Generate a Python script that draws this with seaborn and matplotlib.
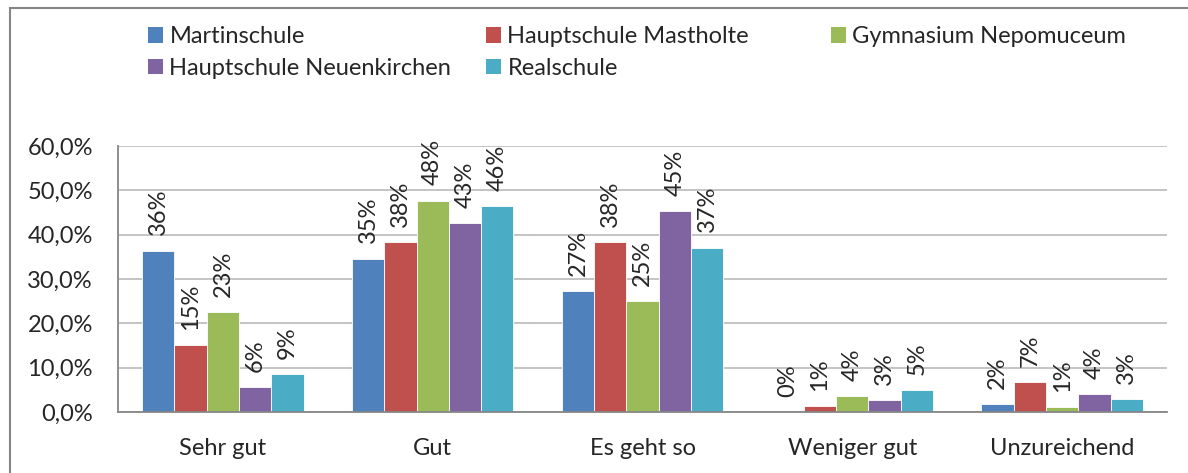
import numpy as np
import pandas as pd
import matplotlib
matplotlib.use("Agg")
import matplotlib.pyplot as plt
import seaborn as sns
from matplotlib.patches import Patch, Rectangle
from matplotlib.ticker import FuncFormatter, FixedLocator

# Bewertungen (x-Achse) und Schulen (Serien)
categories = ["Sehr gut", "Gut", "Es geht so", "Weniger gut", "Unzureichend"]
schools = ["Martinschule", "Hauptschule Mastholte", "Gymnasium Nepomuceum",
           "Hauptschule Neuenkirchen", "Realschule"]

# Anteile in %, je Schule
martinschule = [36.4, 34.6, 27.3, 0.0, 1.7]
mastholte = [15.1, 38.3, 38.3, 1.35, 6.8]
nepomuceum = [22.6, 47.7, 25.0, 3.6, 1.1]
neuenkirchen = [5.6, 42.6, 45.3, 2.7, 4.1]
realschule = [8.6, 46.4, 37.1, 5.0, 2.9]

colors = ["#4F81BD", "#C0504D", "#9BBB59", "#8064A2", "#4BACC6"]

series = [martinschule, mastholte, nepomuceum, neuenkirchen, realschule]
df = pd.DataFrame({
    "Bewertung": categories * len(schools),
    "Schule": np.repeat(schools, len(categories)),
    "Anteil": np.concatenate(series) / 100,
})

sns.set_style("white")
plt.rcParams["font.family"] = ["Lato", "DejaVu Sans"]
fsize = 17

fig = plt.figure(figsize=(11.88, 4.73), dpi=100)
ax = fig.add_axes([118 / 1188, 1 - 412 / 473, (1167 - 118) / 1188, (412 - 146) / 473])

sns.barplot(data=df, x="Bewertung", y="Anteil", hue="Schule", order=categories,
            hue_order=schools, palette=colors, width=0.77, edgecolor="white",
            linewidth=0.6, saturation=1, legend=False, ax=ax)

for cont in ax.containers:
    labels = [f"{b.get_height() * 100:.0f}%" for b in cont]
    ax.bar_label(cont, labels=labels, rotation=90, padding=11, fontsize=fsize)

ax.set_ylim(0, 0.6)
ax.set_xlim(-0.5, len(categories) - 0.5)
ax.yaxis.set_major_locator(FixedLocator(np.arange(0, 0.61, 0.1)))
ax.yaxis.set_major_formatter(FuncFormatter(lambda v, p: f"{v * 100:.1f}%".replace(".", ",")))
ax.grid(axis="y", color="#BFBFBF", linewidth=1.3)
ax.set_axisbelow(True)
ax.set_xlabel("")
ax.set_ylabel("")

for s in ["top", "right"]:
    ax.spines[s].set_visible(False)
for s in ["left", "bottom"]:
    ax.spines[s].set_color("#868686")
    ax.spines[s].set_linewidth(1.3)

ax.tick_params(axis="y", which="major", length=6, width=1.3, color="#868686",
               labelsize=fsize, pad=12)
ax.tick_params(axis="x", which="major", length=0, labelsize=fsize, pad=19)
ax.xaxis.set_minor_locator(FixedLocator(np.arange(-0.5, len(categories), 1.0)))
ax.tick_params(axis="x", which="minor", length=6, width=1.3, color="#868686")

# Legende in drei festen Spalten wie in Excel
handles = [Patch(facecolor=c, edgecolor="none") for c in colors]
cols = [([0, 3], 148), ([1, 4], 486), ([2], 831)]
for idx, xpix in cols:
    fig.legend([handles[i] for i in idx], [schools[i] for i in idx],
               loc="upper left", bbox_to_anchor=(xpix / 1188, 1 - 26 / 473),
               frameon=False, fontsize=fsize, handlelength=0.64, handleheight=0.64,
               handletextpad=0.27, labelspacing=0.45, borderpad=0, borderaxespad=0)

fig.patches.append(Rectangle((10 / 1188, -0.1), 1.2, 1.1 - 8 / 473,
                             transform=fig.transFigure, fill=False,
                             edgecolor="#868686", linewidth=1.5))

fig.savefig("out.png", dpi=100)
